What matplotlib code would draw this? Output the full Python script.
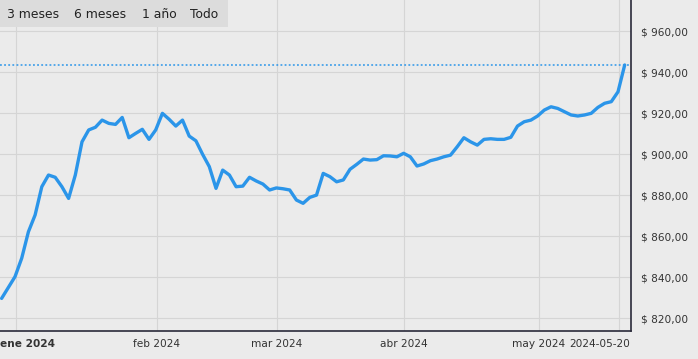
import matplotlib
matplotlib.use("Agg")
import matplotlib.pyplot as plt
import matplotlib.transforms as mtransforms
from matplotlib.patches import Rectangle
from matplotlib.ticker import FuncFormatter

# ---- data ----
values = [829.7, 835.0, 840.3, 849.3, 862.2, 870.4, 884.2, 889.9, 888.8, 884.2,
          878.5, 889.9, 906.1, 911.9, 913.2, 916.7, 915.1, 914.6, 918.0, 908.1,
          910.2, 912.2, 907.3, 911.9, 920.0, 917.1, 913.8, 916.7, 908.9, 906.6,
          900.0, 894.0, 883.4, 892.3, 889.9, 884.2, 884.5, 888.8, 887.0, 885.5,
          882.6, 883.6, 883.2, 882.6, 877.7, 876.1, 879.0, 880.1, 890.7, 889.1,
          886.6, 887.5, 892.7, 895.1, 897.7, 897.2, 897.4, 899.3, 899.2, 898.8,
          900.5, 898.8, 894.3, 895.3, 896.9, 897.7, 898.8, 899.6, 903.7, 908.1,
          906.1, 904.5, 907.3, 907.6, 907.3, 907.3, 908.3, 913.8, 915.9, 916.7,
          918.7, 921.6, 923.2, 922.4, 920.8, 919.2, 918.7, 919.2, 920.0, 922.9,
          924.9, 925.7, 930.5, 943.6]
x_labels = ["ene 2024", "feb 2024", "mar 2024", "abr 2024", "may 2024", "2024-05-20"]
x_label_pos = [2.1, 23.15, 41.1, 60.1, 80.2, 92.2]
y_ticks = [820, 840, 860, 880, 900, 920, 940, 960]
buttons = ["3 meses", "6 meses", "1 año", "Todo"]

# ---- figure ----
W, H = 698, 359
fig = plt.figure(figsize=(W / 100, H / 100), dpi=100)
bg = "#ebebeb"
fig.patch.set_facecolor(bg)

ax = fig.add_axes([0, (H - 331) / H, 631 / W, 331 / H])
ax.set_facecolor(bg)

idx = list(range(len(values)))
line_color = "#2b95e9"
ax.plot(idx, values, color=line_color, lw=2.4, solid_joinstyle="round",
        solid_capstyle="round", zorder=3)
ax.axhline(values[-1], color=line_color, lw=1.1, ls=(0, (1.2, 1.5)), zorder=2)

ax.set_xlim(-0.24, 93.94)
ax.set_ylim(813.8, 975.3)

# grid
ax.set_xticks(x_label_pos)
ax.set_yticks(y_ticks)
ax.grid(True, color="#d5d5d5", lw=0.8)
ax.set_axisbelow(True)

# spines
for s in ["top", "left"]:
    ax.spines[s].set_visible(False)
for s in ["bottom", "right"]:
    ax.spines[s].set_color("#2a2a3a")
    ax.spines[s].set_linewidth(1.2)

# y tick labels on right
ax.yaxis.tick_right()
ax.yaxis.set_major_formatter(FuncFormatter(
    lambda v, p: "$ " + f"{v:,.2f}".replace(",", "X").replace(".", ",").replace("X", ".")))
ax.tick_params(axis="y", length=0, pad=7, labelsize=7.6, labelcolor="#333333")

# x tick labels
ax.set_xticklabels(x_labels)
ax.tick_params(axis="x", length=0, pad=6, labelsize=7.6, labelcolor="#333333")
labs = ax.get_xticklabels()
labs[0].set_fontweight("bold")
labs[0].set_horizontalalignment("left")
labs[0].set_transform(labs[0].get_transform() +
                      mtransforms.ScaledTranslation(-15.7 / 100, 0, fig.dpi_scale_trans))
labs[-1].set_horizontalalignment("right")
labs[-1].set_transform(labs[-1].get_transform() +
                       mtransforms.ScaledTranslation(11.0 / 100, 0, fig.dpi_scale_trans))

# range selector bar
fig.patches.append(Rectangle((0, (H - 27) / H), 228 / W, 27 / H,
                             transform=fig.transFigure, facecolor="#dcdcdc",
                             edgecolor="none", zorder=5))
btn_x = [7, 74, 142, 190]
for bx, b in zip(btn_x, buttons):
    fig.text(bx / W, (H - 14) / H, b, fontsize=8.9, color="#222222",
             ha="left", va="center", zorder=6)

fig.savefig("out.png", dpi=100, facecolor=bg)
